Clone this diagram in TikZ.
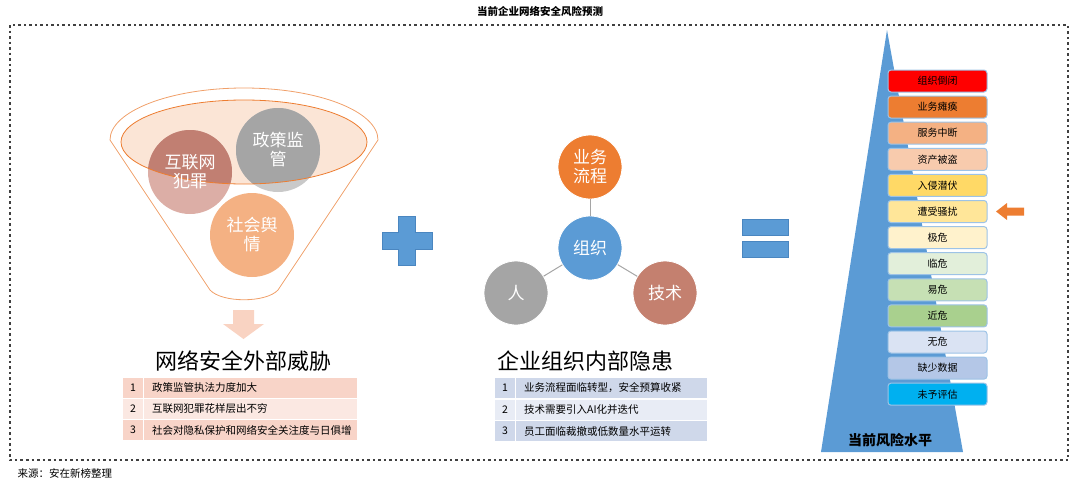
\documentclass[tikz,border=0pt]{standalone}
\usepackage{fontspec}
\setmainfont{Noto Sans CJK SC}
\usepackage{xcolor}
\usetikzlibrary{positioning, arrows.meta}
\definecolor{frameline}{HTML}{404040}
\definecolor{funnelline}{HTML}{F0A06A}
\definecolor{funnelfill}{HTML}{FBE5D6}
\definecolor{crimedark}{HTML}{C17F72}
\definecolor{crimelight}{HTML}{DCAEA6}
\definecolor{policydark}{HTML}{A5A5A5}
\definecolor{policylight}{HTML}{C9C9C9}
\definecolor{opinionfill}{HTML}{F4B183}
\definecolor{downpink}{HTML}{F9D3C2}
\definecolor{signblue}{HTML}{5B9BD5}
\definecolor{signborder}{HTML}{4A86C0}
\definecolor{orgorange}{HTML}{ED7D31}
\definecolor{orggray}{HTML}{A5A5A5}
\definecolor{orgbrown}{HTML}{C4806F}
\definecolor{extrowA}{HTML}{F8D4C8}
\definecolor{extrowB}{HTML}{FBE8E2}
\definecolor{introwA}{HTML}{CFD8EA}
\definecolor{introwB}{HTML}{E8ECF5}
\definecolor{levelborder}{HTML}{9DC3E6}
\definecolor{pointer}{HTML}{ED7D31}

\tikzset{
  ball/.style={circle, minimum size=84pt, inner sep=0pt, text=white, align=center,
               font=\fontsize{17}{19}\selectfont},
  orgball/.style={circle, minimum size=64pt, inner sep=0pt, text=white, align=center,
                  draw=white, line width=0.8pt, font=\fontsize{17}{19}\selectfont},
  numcell/.style={minimum width=20pt, minimum height=20pt, inner sep=0pt,
                  font=\fontsize{10.5}{12}\selectfont},
  txtcell/.style={anchor=west, minimum height=20pt, inner xsep=8pt, inner ysep=0pt,
                  align=left, font=\fontsize{10.5}{12}\selectfont},
  level/.style={rounded corners=3pt, draw=levelborder, line width=1pt, minimum width=99pt,
                minimum height=22pt, inner sep=0pt, font=\fontsize{10}{11}\selectfont},
  headline/.style={font=\fontsize{22}{24}\selectfont},
}

\begin{document}
\begin{tikzpicture}[x=1pt, y=-1pt]
  \useasboundingbox (0,0) rectangle (1080,482);

  % frame and captions
  \node[font=\bfseries\fontsize{10.5}{12}\selectfont] (title) at (540,11) {当前企业网络安全风险预测};
  \draw[frameline, line width=2.5pt, dash pattern=on 2.5pt off 3pt] (10,25) rectangle (1068,460);
  \node[anchor=west, font=\fontsize{10.5}{12}\selectfont] (source) at (14,473) {来源：安在新榜整理};

  % funnel
  \draw[funnelline, line width=0.8pt] (110,140) arc[start angle=180, end angle=360, x radius=134, y radius=52]
    -- (278,290) .. controls (266,303) and (222,303) .. (210,290) -- cycle;
  \fill[funnelfill] (244,142) ellipse[x radius=123, y radius=42];
  \fill[crimelight] (190,172) circle[radius=42];
  \fill[policylight] (278,150) circle[radius=42];
  \begin{scope}
    \clip (244,142) ellipse[x radius=123, y radius=42];
    \fill[crimedark] (190,172) circle[radius=42];
    \fill[policydark] (278,150) circle[radius=42];
  \end{scope}
  \fill[opinionfill] (252,235) circle[radius=42];
  \draw[orgorange, line width=0.8pt] (244,142) ellipse[x radius=123, y radius=42];
  \node[ball] (crime) at (190,172) {互联网\\犯罪};
  \node[ball] (policy) at (278,150) {政策监\\管};
  \node[ball] (opinion) at (252,235) {社会舆\\情};
  \fill[downpink] (233,310) -- (254,310) -- (254,324) -- (264,324) -- (243.5,339)
    -- (223,324) -- (233,324) -- cycle;

  % external threats
  \node[headline] (exthead) at (243,361) {网络安全外部威胁};
  \node[numcell, fill=extrowA] (ext1n) at (133,388) {1};
  \node[txtcell, fill=extrowA, text width=197pt] (ext1) at (144,388) {政策监管执法力度加大};
  \node[numcell, fill=extrowB] (ext2n) at (133,409) {2};
  \node[txtcell, fill=extrowB, text width=197pt] (ext2) at (144,409) {互联网犯罪花样层出不穷};
  \node[numcell, fill=extrowA] (ext3n) at (133,430) {3};
  \node[txtcell, fill=extrowA, text width=197pt] (ext3) at (144,430) {社会对隐私保护和网络安全关注度与日俱增};

  % plus and equals
  \filldraw[fill=signblue, draw=signborder, line width=0.8pt]
    (398.5,216) -- (415.5,216) -- (415.5,232) -- (432,232) -- (432,249) -- (415.5,249)
    -- (415.5,265) -- (398.5,265) -- (398.5,249) -- (382,249) -- (382,232) -- (398.5,232) -- cycle;
  \filldraw[fill=signblue, draw=signborder, line width=0.8pt] (742,219) rectangle (788,235);
  \filldraw[fill=signblue, draw=signborder, line width=0.8pt] (742,241) rectangle (788,257);

  % organisation
  \node[orgball, fill=signblue] (org) at (590,248) {组织};
  \node[orgball, fill=orgorange] (flow) at (590,167) {业务\\流程};
  \node[orgball, fill=orggray] (people) at (516,293) {人};
  \node[orgball, fill=orgbrown] (tech) at (665,293) {技术};
  \draw[orggray, line width=1pt] (org) -- (flow);
  \draw[orggray, line width=1pt] (org) -- (people);
  \draw[orggray, line width=1pt] (org) -- (tech);

  % internal risks
  \node[headline] (inthead) at (585,361) {企业组织内部隐患};
  \node[numcell, fill=introwA] (int1n) at (505,388) {1};
  \node[txtcell, fill=introwA, text width=175pt] (int1) at (516,388) {业务流程面临转型，安全预算收紧};
  \node[numcell, fill=introwB] (int2n) at (505,409.5) {2};
  \node[txtcell, fill=introwB, text width=175pt] (int2) at (516,409.5) {技术需要引入AI化并迭代};
  \node[numcell, fill=introwA] (int3n) at (505,431) {3};
  \node[txtcell, fill=introwA, text width=175pt] (int3) at (516,431) {员工面临裁撤或低数量水平运转};

  % risk pyramid
  \fill[signblue] (887,30) -- (963,452) -- (821,452) -- cycle;
  \node[font=\bfseries\fontsize{14}{16}\selectfont] (levelhead) at (890,440) {当前风险水平};
  \node[level, fill={rgb,255:red,255;green,0;blue,0}] (lv1) at (937.5,81) {组织倒闭};
  \node[level, fill={rgb,255:red,237;green,125;blue,49}] (lv2) at (937.5,107.1) {业务瘫痪};
  \node[level, fill={rgb,255:red,244;green,177;blue,131}] (lv3) at (937.5,133.2) {服务中断};
  \node[level, fill={rgb,255:red,248;green,203;blue,173}] (lv4) at (937.5,159.3) {资产被盗};
  \node[level, fill={rgb,255:red,255;green,217;blue,102}] (lv5) at (937.5,185.4) {入侵潜伏};
  \node[level, fill={rgb,255:red,255;green,230;blue,153}] (lv6) at (937.5,211.5) {遭受骚扰};
  \node[level, fill={rgb,255:red,255;green,242;blue,204}] (lv7) at (937.5,237.6) {极危};
  \node[level, fill={rgb,255:red,226;green,239;blue,218}] (lv8) at (937.5,263.7) {临危};
  \node[level, fill={rgb,255:red,198;green,224;blue,180}] (lv9) at (937.5,289.8) {易危};
  \node[level, fill={rgb,255:red,169;green,208;blue,142}] (lv10) at (937.5,315.9) {近危};
  \node[level, fill={rgb,255:red,218;green,227;blue,243}] (lv11) at (937.5,342) {无危};
  \node[level, fill={rgb,255:red,180;green,199;blue,231}] (lv12) at (937.5,368.1) {缺少数据};
  \node[level, fill={rgb,255:red,0;green,176;blue,240}] (lv13) at (937.5,394.2) {未予评估};

  % current level pointer
  \fill[pointer] (996,211.5) -- (1007,203) -- (1007,207.5) -- (1024,207.5) -- (1024,215.5)
    -- (1007,215.5) -- (1007,220) -- cycle;
\end{tikzpicture}
\end{document}
